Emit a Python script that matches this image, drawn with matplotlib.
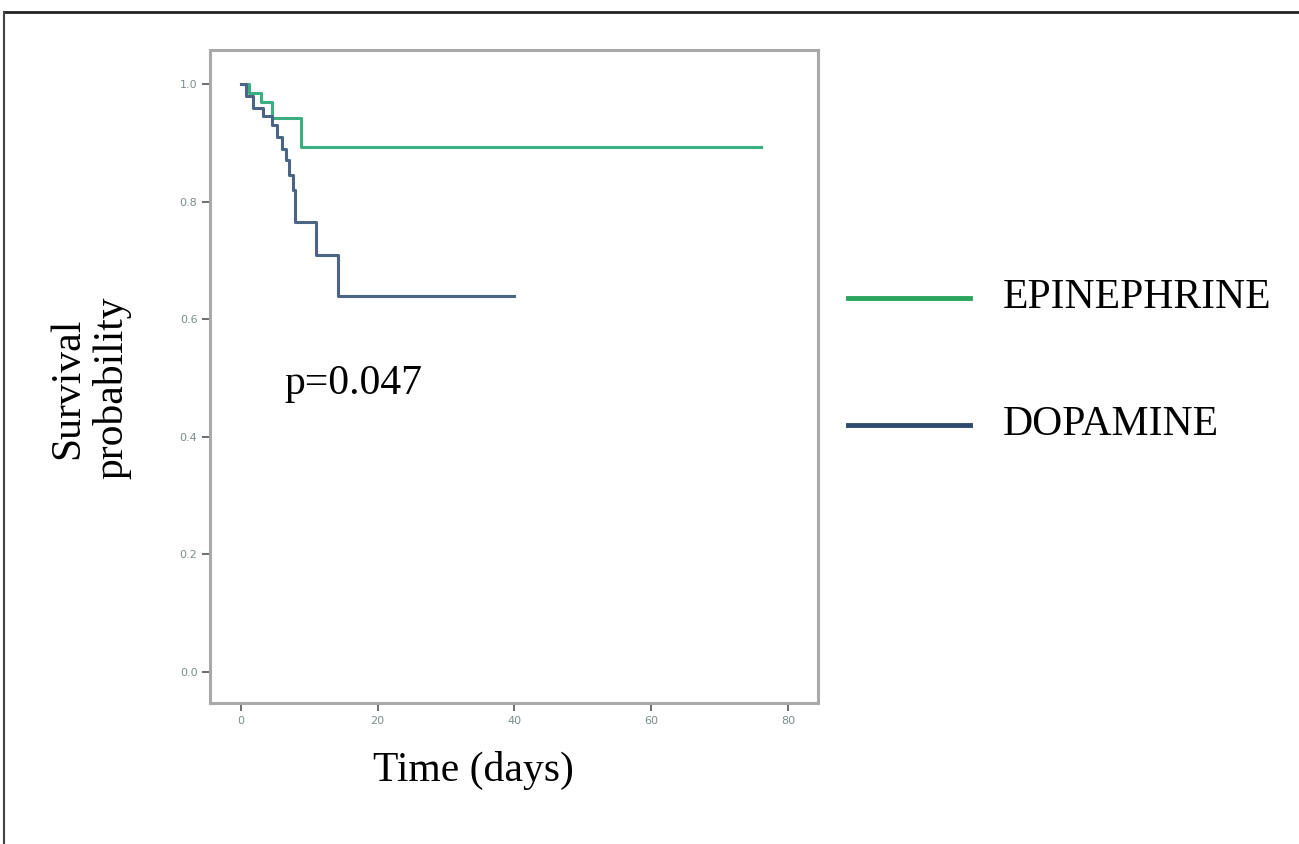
import numpy as np
import matplotlib
matplotlib.use("Agg")
import matplotlib.pyplot as plt
from matplotlib.lines import Line2D

# --- données (Kaplan-Meier, temps en jours)
epi_t = [0, 1.2, 3.0, 4.6, 8.8, 76.0]
epi_s = [1.0, 0.985, 0.97, 0.943, 0.893, 0.893]
dopa_t = [0, 0.8, 1.8, 3.2, 4.5, 5.3, 6.0, 6.6, 7.1, 7.6, 8.0, 11.0, 14.2, 40.0]
dopa_s = [1.0, 0.98, 0.96, 0.945, 0.93, 0.91, 0.89, 0.87, 0.845, 0.82, 0.765, 0.71, 0.64, 0.64]
labels = ["EPINEPHRINE", "DOPAMINE"]
xticks = [0, 20, 40, 60, 80]
yticks = [0.0, 0.2, 0.4, 0.6, 0.8, 1.0]
p_text = "p=0.047"

serif = "Liberation Serif"
c_epi, c_dopa = "#3aaf80", "#4a6585"
c_epi_leg, c_dopa_leg = "#2aa35c", "#2f4a6c"

fig = plt.figure(figsize=(12.99, 8.44), dpi=100)
W, H = 1299, 844
ax = fig.add_axes([210 / W, 1 - 703 / H, (818 - 210) / W, (703 - 50) / H])

ax.step(epi_t, epi_s, where="post", color=c_epi, lw=2.2)
ax.step(dopa_t, dopa_s, where="post", color=c_dopa, lw=2.2)

ax.set_xlim(-4.5, 84.4)
ax.set_ylim(-0.053, 1.058)
ax.set_xticks(xticks)
ax.set_xticklabels([str(v) for v in xticks])
ax.set_yticks(yticks)
ax.set_yticklabels([f"{v:.1f}" for v in yticks])
ax.tick_params(direction="out", length=6, width=1.2, color="#555555",
               labelsize=8, labelcolor="#7a8c8c", pad=3)
for sp in ax.spines.values():
    sp.set_color("#a9a9a9")
    sp.set_linewidth(2.2)

ax.text(6.4, 0.49, p_text, family=serif, fontsize=30, ha="left", va="center")

# légende dessinée à la main (hors axes)
for y, c, lab in [(298, c_epi_leg, labels[0]), (425, c_dopa_leg, labels[1])]:
    fig.add_artist(Line2D([848 / W, 970 / W], [1 - y / H, 1 - y / H],
                          color=c, lw=3.5, transform=fig.transFigure))
    fig.text(1003 / W, 1 - y / H, lab, family=serif, fontsize=30,
             ha="left", va="center")

fig.text(90 / W, 1 - 388 / H, "Survival\nprobability", family=serif,
         fontsize=30, rotation=90, ha="center", va="center", linespacing=1.15)
fig.text(473 / W, 1 - 770 / H, "Time (days)", family=serif, fontsize=30,
         ha="center", va="center")

# cadre de l'image d'origine (haut et gauche)
fig.add_artist(Line2D([4 / W, 1], [1 - 12 / H, 1 - 12 / H], color="#222222",
                      lw=2, transform=fig.transFigure))
fig.add_artist(Line2D([4 / W, 4 / W], [0, 1 - 12 / H], color="#444444",
                      lw=1.5, transform=fig.transFigure))

fig.savefig("out.png", dpi=100)
